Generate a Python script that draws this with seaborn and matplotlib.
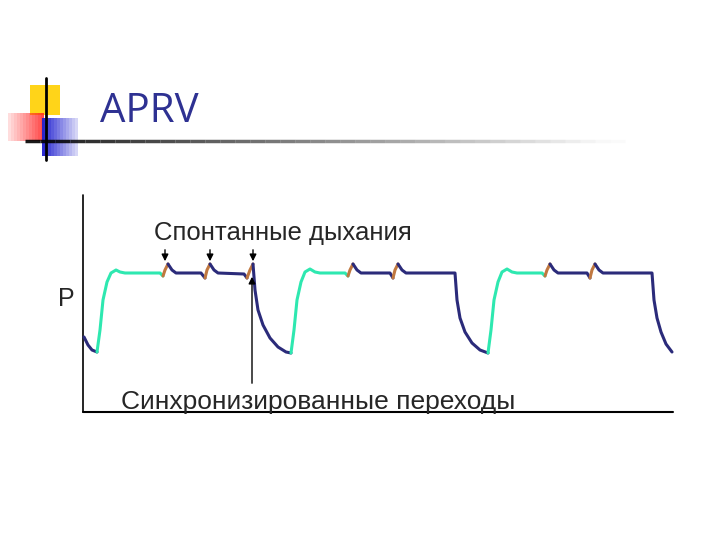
import matplotlib
matplotlib.use("Agg")
import matplotlib.pyplot as plt
import seaborn as sns
import numpy as np
from matplotlib.patches import Rectangle

sns.set_style("white")
plt.rcParams['font.family'] = ['Liberation Sans', 'DejaVu Sans']

GREEN = "#2ee8b0"; NAVY = "#2b2b7a"; ORANGE = "#c07840"

# waveform points (x, P in picture pixel units; y grows downward)
c1_fall0_x = [84, 88, 92, 97]; c1_fall0_y = [337, 345, 350, 352]
c1_insp_x = [97, 100, 103, 107, 111, 116, 120, 125, 160, 163]
c1_insp_y = [352, 330, 300, 282, 273, 270, 272, 273, 273, 276]
c1_b1_x = [163, 165, 168]; c1_b1_y = [276, 270, 264]
c1_n1_x = [168, 172, 176, 201, 205]; c1_n1_y = [264, 270, 273, 273, 278]
c1_b2_x = [205, 207, 210]; c1_b2_y = [278, 270, 264]
c1_n2_x = [210, 214, 218, 244, 247]; c1_n2_y = [264, 270, 273, 274, 278]
c1_b3_x = [247, 250, 253]; c1_b3_y = [278, 270, 264]
c1_fall_x = [253, 255, 258, 263, 270, 278, 286, 291]
c1_fall_y = [264, 290, 310, 325, 338, 347, 352, 353]

c2_insp_x = [291, 294, 297, 301, 305, 310, 315, 320, 345, 348]
c2_insp_y = [353, 330, 300, 282, 272, 269, 272, 273, 273, 276]
c2_b1_x = [348, 350, 353]; c2_b1_y = [276, 270, 264]
c2_n1_x = [353, 357, 361, 390, 393]; c2_n1_y = [264, 270, 273, 273, 278]
c2_b2_x = [393, 395, 398]; c2_b2_y = [278, 270, 264]
c2_n2_x = [398, 402, 406, 455, 457, 460, 465, 472, 480, 488]
c2_n2_y = [264, 270, 273, 273, 300, 318, 332, 343, 350, 353]

c3_insp_x = [488, 491, 494, 498, 502, 507, 512, 517, 542, 545]
c3_insp_y = [353, 330, 300, 282, 272, 269, 272, 273, 273, 276]
c3_b1_x = [545, 547, 550]; c3_b1_y = [276, 270, 264]
c3_n1_x = [550, 554, 558, 587, 590]; c3_n1_y = [264, 270, 273, 273, 278]
c3_b2_x = [590, 592, 595]; c3_b2_y = [278, 270, 264]
c3_n2_x = [595, 599, 603, 652, 654, 657, 661, 666, 672]
c3_n2_y = [264, 270, 273, 273, 300, 318, 332, 344, 352]

segments = [
    (NAVY, c1_fall0_x, c1_fall0_y), (GREEN, c1_insp_x, c1_insp_y),
    (ORANGE, c1_b1_x, c1_b1_y), (NAVY, c1_n1_x, c1_n1_y),
    (ORANGE, c1_b2_x, c1_b2_y), (NAVY, c1_n2_x, c1_n2_y),
    (ORANGE, c1_b3_x, c1_b3_y), (NAVY, c1_fall_x, c1_fall_y),
    (GREEN, c2_insp_x, c2_insp_y), (ORANGE, c2_b1_x, c2_b1_y),
    (NAVY, c2_n1_x, c2_n1_y), (ORANGE, c2_b2_x, c2_b2_y),
    (NAVY, c2_n2_x, c2_n2_y),
    (GREEN, c3_insp_x, c3_insp_y), (ORANGE, c3_b1_x, c3_b1_y),
    (NAVY, c3_n1_x, c3_n1_y), (ORANGE, c3_b2_x, c3_b2_y),
    (NAVY, c3_n2_x, c3_n2_y),
]
down_arrow_x = [165, 210, 253]

fig = plt.figure(figsize=(7.2, 5.4), dpi=100)
W, H = 720, 540
ax = fig.add_axes([0, 0, 1, 1])
ax.set_xlim(0, W); ax.set_ylim(H, 0)
ax.axis("off")

# decorative squares
ax.add_patch(Rectangle((30, 85), 30, 30, color="#ffd000", alpha=0.9, lw=0))
for i in range(12):
    ax.add_patch(Rectangle((8 + i * 3, 113), 3, 28, color="#ff2020", alpha=0.15 + 0.06 * i, lw=0))
for i in range(12):
    ax.add_patch(Rectangle((42 + i * 3, 118), 3, 38, color="#2020d0", alpha=0.95 - 0.07 * i, lw=0))
ax.plot([46, 46], [78, 160], color="black", lw=2)
for i in range(40):
    x0 = 25 + i * 15
    ax.plot([x0, x0 + 15], [141, 141], color="black", lw=2.5, alpha=max(0.02, 0.9 - i * 0.023),
            solid_capstyle="butt")
ax.text(100, 112, "APRV", fontsize=29, color="#2e3192", va="center", ha="left",
        family=['Open Sans', 'DejaVu Sans'])

# axes lines
ax.plot([83, 83], [195, 412], color="black", lw=1.2)
ax.plot([83, 673], [412, 412], color="black", lw=1.5)

for col, xs, ys in segments:
    sns.lineplot(x=xs, y=ys, ax=ax, color=col, lw=2.2, sort=False, estimator=None)

for x in down_arrow_x:
    ax.annotate("", xy=(x, 264), xytext=(x, 247),
                arrowprops=dict(arrowstyle="-|>", color="black", lw=1, mutation_scale=10))
ax.annotate("", xy=(252, 274), xytext=(252, 386),
            arrowprops=dict(arrowstyle="-|>", color="black", lw=1, mutation_scale=10))

ax.text(283, 233, "Спонтанные дыхания", fontsize=18.5, ha="center", va="center")
ax.text(318, 402, "Синхронизированные переходы", fontsize=19, ha="center", va="center")
ax.text(66, 299, "P", fontsize=18, ha="center", va="center")

fig.savefig("out.png", dpi=100)
